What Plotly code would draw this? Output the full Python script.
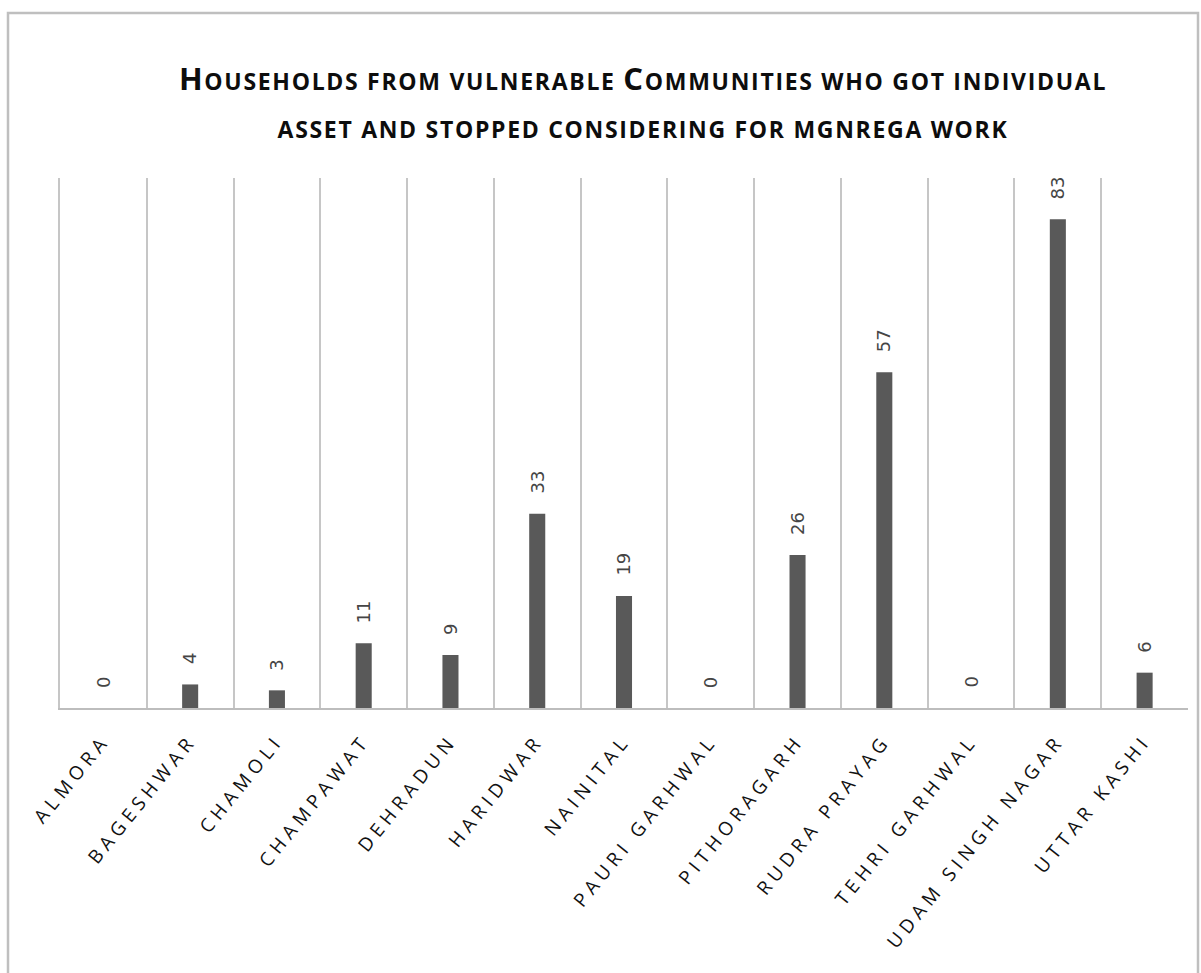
import plotly.graph_objects as go

districts = ["ALMORA", "BAGESHWAR", "CHAMOLI", "CHAMPAWAT", "DEHRADUN", "HARIDWAR",
             "NAINITAL", "PAURI GARHWAL", "PITHORAGARH", "RUDRA PRAYAG",
             "TEHRI GARHWAL", "UDAM SINGH NAGAR", "UTTAR KASHI"]
households = [0, 4, 3, 11, 9, 33, 19, 0, 26, 57, 0, 83, 6]

W, H = 1201, 973
L, R, T, B = 60, 13, 178, 265
PW, PH = W - L - R, H - T - B


def px_x(p):
    return (p - L) / PW


def px_y(p):
    return (H - B - p) / PH


fig = go.Figure(go.Bar(
    x=districts, y=households, width=0.185,
    marker=dict(color="#595959", line=dict(width=0)),
    hoverinfo="x+y", showlegend=False,
))

for d, v in zip(districts, households):
    fig.add_annotation(x=d, y=v, text=str(v), textangle=-90, showarrow=False,
                       yanchor="bottom", yshift=18,
                       font=dict(family="DejaVu Sans", size=18, color="#454545"))

big = "<span style='font-size:31px'>{}</span>"
small = "<span style='font-size:23px'>{}</span>"
title = (big.format("H") + small.format("OUSEHOLDS FROM VULNERABLE ") + big.format("C")
         + small.format("OMMUNITIES WHO GOT INDIVIDUAL") + "<br>"
         + small.format("ASSET AND STOPPED CONSIDERING FOR MGNREGA WORK"))

fig.update_layout(
    width=W, height=H,
    margin=dict(l=L, r=R, t=T, b=B, pad=0),
    paper_bgcolor="white", plot_bgcolor="white",
    title=dict(text=title, x=0.5354, xref="container", xanchor="center",
               y=1 - 90 / H, yref="container", yanchor="top",
               font=dict(family="Open Sans", size=37, color="#0d0d0d", weight=700)),
    xaxis=dict(type="category", range=[-0.5, 12.5], tickson="boundaries",
               showgrid=True, gridcolor="#c6c6c6", gridwidth=1.5,
               showline=True, linecolor="#bdbdbd", linewidth=2,
               ticks="", tickangle=-51, ticklabelstandoff=12,
               tickfont=dict(family="Open Sans", size=19, color="#111111"),
               fixedrange=True),
    yaxis=dict(visible=True, range=[0, 90], showline=True, linecolor="#c6c6c6",
               linewidth=1.5, showgrid=False, zeroline=False, showticklabels=False,
               ticks="", fixedrange=True),
    bargap=0.8,
    shapes=[dict(type="rect", xref="paper", yref="paper",
                 x0=px_x(8), x1=px_x(1198), y0=px_y(990), y1=px_y(13),
                 line=dict(color="#bfbfbf", width=2.5), layer="below")],
)

post = """
var st = document.createElement('style');
st.innerHTML = '.xtick text{letter-spacing:5px} .gtitle{letter-spacing:1.7px}';
document.head.appendChild(st);
"""
fig.write_html("out.html", post_script=post)
